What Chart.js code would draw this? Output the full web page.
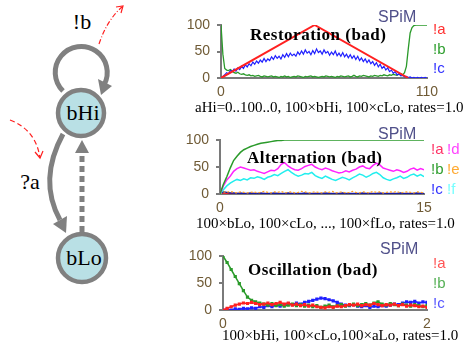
<!DOCTYPE html>
<html>
<head>
<meta charset="utf-8">
<script src="https://cdn.jsdelivr.net/npm/chart.js@4.4.0/dist/chart.umd.min.js"></script>
<style>
body { margin: 0; background: #fff; }
#wrap { position: relative; width: 464px; height: 351px; overflow: hidden; background: #fff; }
canvas { position: absolute; }
svg { position: absolute; left: 0; top: 0; }
.t { position: absolute; white-space: nowrap; line-height: 1; }
.title { font: bold 17px "Liberation Serif", serif; letter-spacing: 0.5px; color: #000; }
.sub { font: 15px "Liberation Serif", serif; color: #000; }
.spim { font: 16px "Liberation Sans", Arial, sans-serif; color: #50508a; }
.lg { font: 15px "Liberation Sans", Arial, sans-serif; }
</style>
</head>
<body>
<div id="wrap">
  <svg width="180" height="351" viewBox="0 0 180 351">
    <!-- self loop on bHi -->
    <path d="M 63 91 A 26 26 0 1 1 104 85" fill="none" stroke="#808080" stroke-width="5"/>
    <polygon points="98,79 112,86 101,95" fill="#808080"/>
    <!-- bHi -> bLo -->
    <path d="M 63 134 Q 38 180 60 220" fill="none" stroke="#808080" stroke-width="5"/>
    <polygon points="66,233 67,216 53,224" fill="#808080"/>
    <!-- bLo -> bHi dotted -->
    <line x1="82" y1="232" x2="82" y2="152" stroke="#808080" stroke-width="5" stroke-dasharray="6 4"/>
    <polygon points="82,140 75,153 89,153" fill="#808080"/>
    <!-- nodes -->
    <circle cx="81" cy="113" r="23" fill="#b9e0e5" stroke="#808080" stroke-width="4.5"/>
    <circle cx="82" cy="258" r="24" fill="#b9e0e5" stroke="#808080" stroke-width="4.5"/>
    <text x="83" y="120" text-anchor="middle" font-family="Liberation Serif, serif" font-size="22">bHi</text>
    <text x="84" y="265" text-anchor="middle" font-family="Liberation Serif, serif" font-size="22">bLo</text>
    <text x="82" y="29" text-anchor="middle" font-family="Liberation Serif, serif" font-size="22">!b</text>
    <text x="30" y="189" text-anchor="middle" font-family="Liberation Serif, serif" font-size="22">?a</text>
    <!-- red dashed hints -->
    <path d="M 99 44 Q 107 20 122 7" fill="none" stroke="#ff2020" stroke-width="1.2" stroke-dasharray="5 2 1 2"/>
    <polyline points="121,13 123,6 116,7" fill="none" stroke="#ff2020" stroke-width="1.2"/>
    <path d="M 10 120 Q 36 130 40 158" fill="none" stroke="#ff2020" stroke-width="1.2" stroke-dasharray="5 3"/>
    <polyline points="35,152 40,158 43,151" fill="none" stroke="#ff2020" stroke-width="1.2"/>
  </svg>

  <canvas id="c1" width="284" height="100" style="left:180px;top:0px"></canvas>
  <canvas id="c2" width="284" height="100" style="left:180px;top:115px"></canvas>
  <canvas id="c3" width="284" height="100" style="left:180px;top:231px"></canvas>

  <div class="t spim" style="left:378px;top:8px">SPiM</div>
  <div class="t lg" style="left:433px;top:20px;color:#ff3030">!a</div>
  <div class="t lg" style="left:433px;top:40px;color:#2e9e2e">!b</div>
  <div class="t lg" style="left:433px;top:59px;color:#3030ff">!c</div>
  <div class="t title" style="left:250px;top:25px">Restoration (bad)</div>
  <div class="t sub" style="left:195px;top:99px">aHi=0..100..0, 100×bHi, 100×cLo, rates=1.0</div>

  <div class="t spim" style="left:378px;top:125px">SPiM</div>
  <div class="t lg" style="left:431px;top:140px;color:#ff3366">!a</div>
  <div class="t lg" style="left:447px;top:140px;color:#ff44ff">!d</div>
  <div class="t lg" style="left:431px;top:160px;color:#2e9e2e">!b</div>
  <div class="t lg" style="left:447px;top:160px;color:#ffaa33">!e</div>
  <div class="t lg" style="left:431px;top:180px;color:#3333ff">!c</div>
  <div class="t lg" style="left:447px;top:180px;color:#77ffff">!f</div>
  <div class="t title" style="left:247px;top:148px">Alternation (bad)</div>
  <div class="t sub" style="left:196px;top:215px">100×bLo, 100×cLo, ..., 100×fLo, rates=1.0</div>

  <div class="t spim" style="left:380px;top:240px">SPiM</div>
  <div class="t lg" style="left:433px;top:254px;color:#ff5555">!a</div>
  <div class="t lg" style="left:433px;top:274px;color:#55b055">!b</div>
  <div class="t lg" style="left:433px;top:294px;color:#5555ff">!c</div>
  <div class="t title" style="left:248px;top:260px">Oscillation (bad)</div>
  <div class="t sub" style="left:222px;top:327px">100×bHi, 100×cLo,100×aLo, rates=1.0</div>
</div>

<script>
// Restoration: time 0..110, one sample per time unit
const restStep = 1;
const restRedX = [0, 50, 100];
const restRedY = [0, 100, 0];
const restBlue = [
  0, 3, 6, 10, 8, 14, 12, 17, 13, 19,
  16, 22, 18, 25, 21, 27, 23, 30, 26, 32,
  28, 34, 30, 37, 31, 36, 33, 40, 35, 42,
  37, 41, 36, 44, 39, 46, 40, 47, 42, 45,
  41, 49, 44, 51, 45, 53, 47, 50, 44, 52,
  46, 55, 48, 51, 45, 53, 47, 50, 43, 49,
  44, 51, 42, 47, 41, 48, 40, 45, 38, 44,
  37, 42, 35, 41, 33, 38, 31, 36, 29, 34,
  27, 31, 24, 29, 21, 26, 18, 22, 15, 19,
  12, 15, 9, 12, 6, 8, 4, 5, 2, 3,
  1, 2, 0, 1, 0, 1, 0, 1, 0, 1, 0
];
const restGreen = [
  100, 45, 18, 15, 14, 16, 13, 10, 9, 11,
  8, 7, 8, 6, 5, 6, 4, 5, 3, 4,
  5, 3, 2, 4, 3, 2, 3, 4, 2, 3,
  2, 1, 3, 2, 4, 2, 3, 1, 2, 3,
  2, 4, 3, 2, 1, 3, 2, 3, 4, 2,
  3, 2, 1, 2, 3, 2, 4, 3, 2, 3,
  2, 1, 3, 2, 4, 3, 2, 3, 4, 2,
  3, 5, 3, 2, 4, 3, 5, 4, 3, 2,
  4, 3, 5, 4, 3, 5, 4, 6, 5, 4,
  6, 5, 7, 6, 5, 7, 8, 6, 10, 22,
  55, 85, 95, 99, 100, 100, 100, 100, 100, 100, 100
];

// Alternation: time 0..15, sample every 0.25
const altStep = 0.25;
const altGreen = [
  0, 18, 32, 48, 62, 70, 77, 82, 85, 88,
  90, 92, 94, 95, 96, 97, 98, 99, 99, 100,
  100, 100, 100, 100, 100, 100, 100, 100, 100, 100,
  100, 100, 100, 100, 100, 100, 100, 100, 100, 100,
  100, 100, 100, 100, 100, 100, 100, 100, 100, 100,
  100, 100, 100, 100, 100, 100, 100, 100, 100, 100,
  100
];
const altMagenta = [
  0, 15, 26, 33, 42, 47, 50, 48, 46, 44,
  45, 42, 40, 38, 41, 44, 43, 47, 55, 58,
  52, 48, 45, 44, 47, 51, 53, 55, 50, 47,
  45, 48, 46, 43, 41, 39, 40, 43, 41, 44,
  46, 50, 52, 48, 47, 53, 57, 54, 48, 46,
  44, 42, 45, 43, 40, 42, 46, 48, 44, 47,
  45
];
const altCyan = [
  0, 8, 15, 20, 24, 27, 25, 28, 26, 30,
  29, 32, 30, 27, 31, 33, 36, 34, 38, 42,
  45, 40, 36, 33, 35, 38, 37, 40, 34, 31,
  29, 33, 30, 27, 25, 28, 31, 29, 26, 30,
  33, 37, 35, 31, 34, 38, 40, 36, 30, 27,
  25, 28, 30, 33, 29, 31, 35, 37, 33, 36,
  32
];
const altOrange = [
  0, 4, 3, 5, 3, 2, 4, 3, 2, 3,
  4, 2, 3, 5, 3, 2, 4, 3, 5, 2,
  3, 4, 2, 3, 5, 4, 2, 3, 4, 3,
  2, 4, 3, 5, 2, 3, 4, 2, 3, 5,
  3, 2, 4, 3, 2, 5, 3, 4, 2, 3,
  4, 3, 5, 2, 3, 4, 3, 2, 4, 3,
  2
];
const altBlue = [
  0, 4, 3, 2, 2, 1, 2, 1, 1, 2,
  1, 1, 2, 1, 1, 1, 2, 1, 1, 1,
  2, 1, 1, 1, 1, 2, 1, 1, 1, 1,
  1, 2, 1, 1, 1, 1, 2, 1, 1, 1,
  1, 1, 2, 1, 1, 1, 1, 2, 1, 1,
  1, 1, 1, 2, 1, 1, 1, 1, 2, 1,
  1
];
const altRed = [
  0, 2, 1, 1, 0, 1, 0, 1, 0, 0,
  1, 0, 0, 1, 0, 0, 0, 1, 0, 0,
  0, 1, 0, 0, 0, 1, 0, 0, 1, 0,
  0, 0, 1, 0, 0, 0, 1, 0, 0, 0,
  1, 0, 0, 0, 1, 0, 0, 1, 0, 0,
  0, 1, 0, 0, 0, 1, 0, 0, 0, 1,
  0
];

// Oscillation: time 0..2, sample every 0.04
const oscStep = 0.04;
const oscGreen = [
  100, 88, 75, 62, 49, 36, 24, 18, 15, 13,
  11, 9, 12, 8, 10, 7, 9, 11, 8, 10,
  7, 9, 6, 8, 5, 7, 9, 6, 8, 10,
  7, 9, 11, 8, 10, 12, 9, 13, 15, 11,
  9, 12, 10, 8, 11, 9, 7, 10, 8, 6,
  8
];
const oscRed = [
  0, 3, 6, 9, 11, 13, 12, 14, 12, 10,
  11, 13, 10, 12, 14, 11, 13, 9, 11, 8,
  10, 7, 9, 6, 5, 4, 6, 5, 7, 6,
  8, 10, 9, 11, 8, 10, 9, 12, 10, 8,
  10, 9, 11, 8, 10, 7, 9, 8, 6, 7,
  5
];
const oscBlue = [
  0, 1, 0, 2, 1, 3, 2, 4, 3, 6,
  5, 8, 6, 9, 7, 10, 12, 10, 13, 11,
  14, 16, 18, 20, 22, 21, 19, 17, 14, 11,
  9, 8, 10, 7, 6, 8, 5, 7, 6, 8,
  7, 9, 11, 10, 13, 15, 14, 16, 13, 15,
  14
];

const axisColor = '#7a7a7a';
const tickColor = '#6f5a35';
const tickFont = { family: '"Liberation Sans", Arial, sans-serif', size: 14 };

function series(step, ys) {
  return ys.map((y, i) => ({ x: Math.round(i * step * 100) / 100, y: y }));
}
function points(xs, ys) {
  return xs.map((x, i) => ({ x: x, y: ys[i] }));
}

function makeChart(id, xMax, yAxisW, padRight, xAxisH, datasets) {
  return new Chart(document.getElementById(id), {
    type: 'line',
    data: { datasets: datasets },
    options: {
      animation: false,
      responsive: false,
      devicePixelRatio: 1,
      layout: { padding: { top: 25, right: padRight, left: 0, bottom: 0 } },
      plugins: { legend: { display: false }, tooltip: { enabled: false } },
      elements: { point: { radius: 0 }, line: { tension: 0 } },
      scales: {
        x: {
          type: 'linear', min: 0, max: xMax,
          afterBuildTicks: s => { s.ticks = [{ value: 0 }, { value: xMax }]; },
          afterFit: s => { s.height = xAxisH; },
          grid: { display: false, drawTicks: false },
          border: { display: true, color: axisColor, width: 2 },
          ticks: { color: tickColor, font: tickFont, padding: 6, maxRotation: 0 }
        },
        y: {
          min: 0, max: 100,
          afterBuildTicks: s => { s.ticks = [{ value: 0 }, { value: 50 }, { value: 100 }]; },
          afterFit: s => { s.width = yAxisW; },
          grid: { drawOnChartArea: false, tickLength: 4, color: axisColor, lineWidth: 2 },
          border: { display: true, color: axisColor, width: 2 },
          ticks: { color: tickColor, font: tickFont, padding: 7 }
        }
      }
    }
  });
}

makeChart('c1', 110, 41, 37, 22, [
  { data: points(restRedX, restRedY), borderColor: '#ff2020', borderWidth: 2, order: 0 },
  { data: series(restStep, restBlue), borderColor: '#2020ff', borderWidth: 1.2, order: 1 },
  { data: series(restStep, restGreen), borderColor: '#2a9a2a', borderWidth: 1.3, order: 2 }
]);

makeChart('c2', 15, 40, 40, 21, [
  { data: series(altStep, altGreen), borderColor: '#2a9a2a', borderWidth: 1.5, order: 0 },
  { data: series(altStep, altMagenta), borderColor: '#ff22ff', borderWidth: 1.5, order: 1 },
  { data: series(altStep, altCyan), borderColor: '#22eeee', borderWidth: 1.5, order: 2 },
  { data: series(altStep, altOrange), borderColor: '#ffa020', borderWidth: 1.2, borderDash: [2, 2], order: 3 },
  { data: series(altStep, altBlue), borderColor: '#1a1aa0', borderWidth: 1.5, order: 4 },
  { data: series(altStep, altRed), borderColor: '#ff2020', borderWidth: 1.2, order: 5 }
]);

makeChart('c3', 2, 43, 37, 21, [
  { data: series(oscStep, oscRed), borderColor: '#ff2020', backgroundColor: '#ff2020', borderWidth: 1.5, pointRadius: 1.2, pointStyle: 'rect', order: 0 },
  { data: series(oscStep, oscGreen), borderColor: '#2a9a2a', backgroundColor: '#2a9a2a', borderWidth: 1.5, pointRadius: 1.2, pointStyle: 'rect', order: 1 },
  { data: series(oscStep, oscBlue), borderColor: '#2020ff', backgroundColor: '#2020ff', borderWidth: 1.5, pointRadius: 1.2, pointStyle: 'rect', order: 2 }
]);
</script>
</body>
</html>
